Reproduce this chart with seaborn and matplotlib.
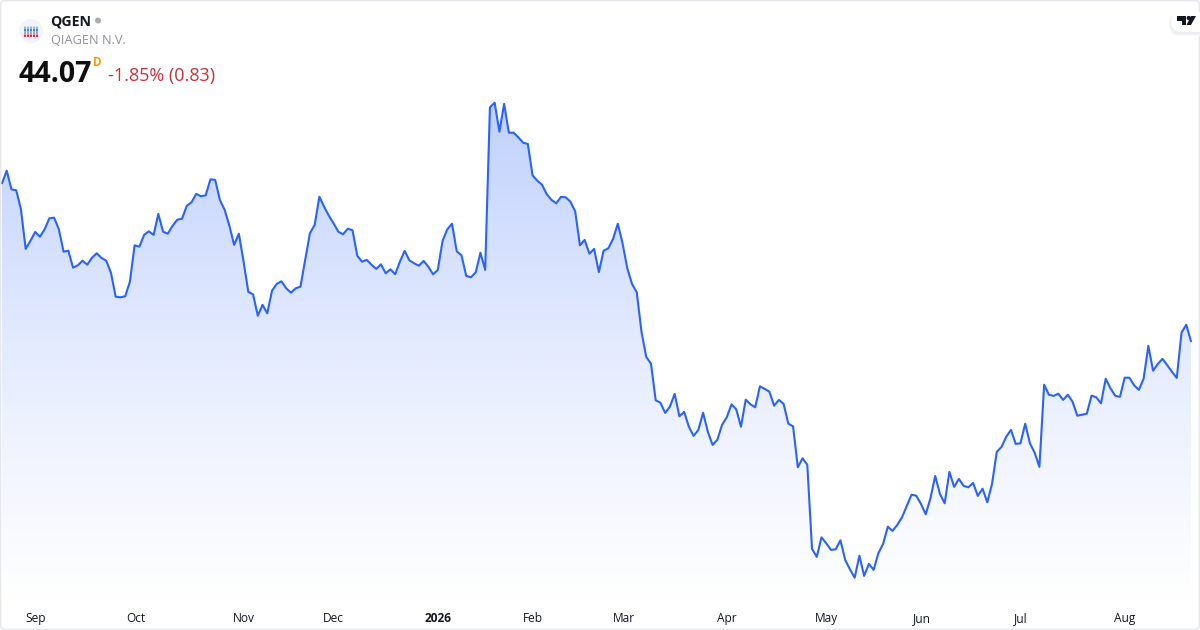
import numpy as np
import pandas as pd
import matplotlib
matplotlib.use("Agg")
import matplotlib.pyplot as plt
from matplotlib.colors import LinearSegmentedColormap
from matplotlib.patches import Circle, FancyBboxPatch, Polygon
import seaborn as sns

prices = [
    51.97, 52.60, 51.67, 51.62, 50.67, 48.69, 49.09, 49.54, 49.30, 49.67, 50.22, 50.25,
    49.67, 48.55, 48.60, 47.75, 47.87, 48.10, 47.90, 48.25, 48.47, 48.24, 48.10, 47.50,
    46.30, 46.27, 46.32, 47.05, 48.87, 48.80, 49.39, 49.57, 49.39, 50.44, 49.55, 49.45,
    49.84, 50.15, 50.20, 50.84, 51.02, 51.44, 51.32, 51.37, 52.17, 52.14, 51.14, 50.64,
    49.85, 48.89, 49.45, 48.05, 46.54, 46.42, 45.35, 45.89, 45.47, 46.60, 46.94, 47.07,
    46.72, 46.50, 46.72, 46.80, 48.14, 49.47, 49.89, 51.30, 50.80, 50.35, 49.97, 49.55,
    49.42, 49.70, 49.62, 48.35, 48.05, 48.14, 47.90, 47.69, 47.92, 47.47, 47.67, 47.42,
    48.05, 48.59, 48.12, 47.97, 47.85, 48.09, 47.80, 47.42, 47.64, 49.09, 49.67, 49.95,
    48.57, 48.37, 47.34, 47.27, 47.52, 48.50, 47.64, 55.77, 56.00, 54.55, 55.94, 54.50,
    54.50, 54.27, 54.00, 53.94, 52.37, 52.10, 51.90, 51.42, 51.14, 50.97, 51.29, 51.27,
    51.05, 50.57, 48.87, 49.14, 48.45, 48.69, 47.53, 48.60, 48.72, 49.19, 49.95, 48.97,
    47.72, 46.94, 46.52, 44.55, 43.29, 42.95, 41.12, 41.00, 40.49, 40.80, 41.44, 40.32,
    40.54, 39.80, 39.34, 39.64, 40.50, 39.55, 38.89, 39.14, 39.89, 40.27, 40.92, 40.67,
    39.80, 41.15, 40.92, 40.77, 41.82, 41.69, 41.55, 40.85, 41.14, 40.94, 39.95, 39.82,
    37.77, 38.22, 37.90, 33.69, 33.29, 34.27, 33.97, 33.64, 33.67, 34.12, 33.14, 32.67,
    32.25, 33.35, 32.34, 32.94, 32.64, 33.47, 33.94, 34.80, 34.59, 34.89, 35.27, 35.84,
    36.40, 36.35, 35.94, 35.42, 36.22, 37.34, 36.44, 35.97, 37.54, 36.79, 37.19, 36.84,
    36.77, 36.99, 36.34, 36.70, 36.02, 36.94, 38.54, 38.79, 39.30, 39.64, 38.94, 38.97,
    39.95, 38.97, 38.50, 37.79, 41.90, 41.40, 41.34, 41.45, 41.14, 41.40, 41.05, 40.35,
    40.40, 40.45, 41.35, 41.27, 40.97, 42.20, 41.72, 41.35, 41.29, 42.25, 42.25, 41.87,
    41.64, 42.20, 43.84, 42.60, 42.94, 43.19, 42.87, 42.54, 42.24, 44.50, 44.90, 44.07,
]
tick_days = [7.2, 28.2, 51, 70, 92, 112.1, 131.3, 153, 174.1, 194.1, 215.1, 237]
tick_labels = ["Sep", "Oct", "Nov", "Dec", "2026", "Feb", "Mar", "Apr", "May", "Jun", "Jul", "Aug"]

sns.set_theme(style="white")
plt.rcParams["font.family"] = ["Open Sans", "DejaVu Sans"]

df = pd.DataFrame({"day": np.arange(len(prices)), "price": prices})

fig = plt.figure(figsize=(12, 6.3), dpi=100, facecolor="white")
ax = fig.add_axes([0, 30 / 630, 1, 600 / 630])
ax.set_facecolor("none")

# 4.737 px per trading day, first day at x=2
day_px = 4.737
y_low, y_high = 31.135, 61.135

# area fill is a vertical gradient clipped to the series outline
cmap = LinearSegmentedColormap.from_list(
    "area", ["#c0d1fc", "#d9e3fe", "#eff3fe", "#ffffff"]
)
grad = np.linspace(0, 1, 256).reshape(-1, 1)
img = ax.imshow(
    grad, cmap=cmap, aspect="auto", origin="upper",
    extent=[0, len(prices) - 1, y_low, 56.0], zorder=1,
)
outline = list(zip(df["day"], df["price"])) + [(len(prices) - 1, y_low), (0, y_low)]
clip = Polygon(outline, closed=True, transform=ax.transData, facecolor="none", edgecolor="none")
ax.add_patch(clip)
img.set_clip_path(clip)

sns.lineplot(data=df, x="day", y="price", ax=ax, color="#2962ff", linewidth=1.5, zorder=3)
ax.set_xlim(-2 / day_px, (1200 - 2) / day_px)
ax.set_ylim(y_low, y_high)

ax.set_xlabel("")
ax.set_ylabel("")
ax.set_yticks([])
ax.set_xticks(tick_days)
ax.set_xticklabels(tick_labels, fontsize=8.6, color="#131722")
ax.tick_params(axis="x", length=0, pad=8.5)
ax.get_xticklabels()[4].set_fontweight("bold")
sns.despine(ax=ax, left=True, bottom=True)

# header, logo and frame sit on an overlay in pixel coordinates
top = fig.add_axes([0, 0, 1, 1])
top.set_xlim(0, 1200)
top.set_ylim(630, 0)
top.axis("off")
top.patch.set_alpha(0)

frame = FancyBboxPatch(
    (0.5, 0.5), 1199, 629, boxstyle="round,pad=0,rounding_size=5",
    facecolor="none", edgecolor="#e6e8ee", linewidth=1.2,
)
top.add_patch(frame)

top.add_patch(Circle((31, 31), 12, facecolor="#f0f3fa", edgecolor="none"))
logo_rows = ["#c4d6f2", "#8fb8ea", "#3f88de", "#9aaedc", "#f08a92", "#e8303f"]
for r, c in enumerate(logo_rows):
    top.scatter(np.arange(25, 38, 3), [26.5 + r * 1.85] * 5, s=2.6, color=c, linewidths=0, marker="s")

top.text(50.5, 21, "QGEN", fontsize=10.2, fontweight="bold", color="#131722", va="center", ha="left")
top.add_patch(Circle((98, 20.5), 3, facecolor="#a8abb3", edgecolor="none"))
top.text(51, 41, "QIAGEN N.V.", fontsize=9.2, color="#8f929b", va="center", ha="left")
top.text(18.5, 74, "44.07", fontsize=20.5, fontweight="bold", color="#0f0f0f", va="center", ha="left")
top.text(93, 62, "D", fontsize=8.4, fontweight="bold", color="#ff9800", va="center", ha="left")
top.text(108, 76, "-1.85% (0.83)", fontsize=13, color="#cc2f3c", va="center", ha="left")

# TradingView tab, top right: soft shadow under a white pill
for grow, col in [(3, "#f8f9fa"), (2, "#f3f4f6"), (1, "#eceef1")]:
    top.add_patch(FancyBboxPatch(
        (1171 - grow * 0.6, 13 + grow * 0.2), 50, 20 + grow * 0.8,
        boxstyle="round,pad=0,rounding_size=10", facecolor=col, edgecolor="none",
    ))
top.add_patch(FancyBboxPatch(
    (1171, 12), 50, 20, boxstyle="round,pad=0,rounding_size=10",
    facecolor="white", edgecolor="none",
))
top.add_patch(Polygon([(1177, 16), (1186, 16), (1186, 25), (1182, 25), (1182, 20.5), (1177, 20.5)], facecolor="#131722", edgecolor="none"))
top.add_patch(Circle((1188.7, 18), 2.1, facecolor="#131722", edgecolor="none"))
top.add_patch(Polygon([(1191, 16), (1196, 16), (1191, 25), (1186.5, 25)], facecolor="#131722", edgecolor="none"))
top.set_xlim(0, 1200)
top.set_ylim(630, 0)

fig.savefig("out.png", dpi=100)
